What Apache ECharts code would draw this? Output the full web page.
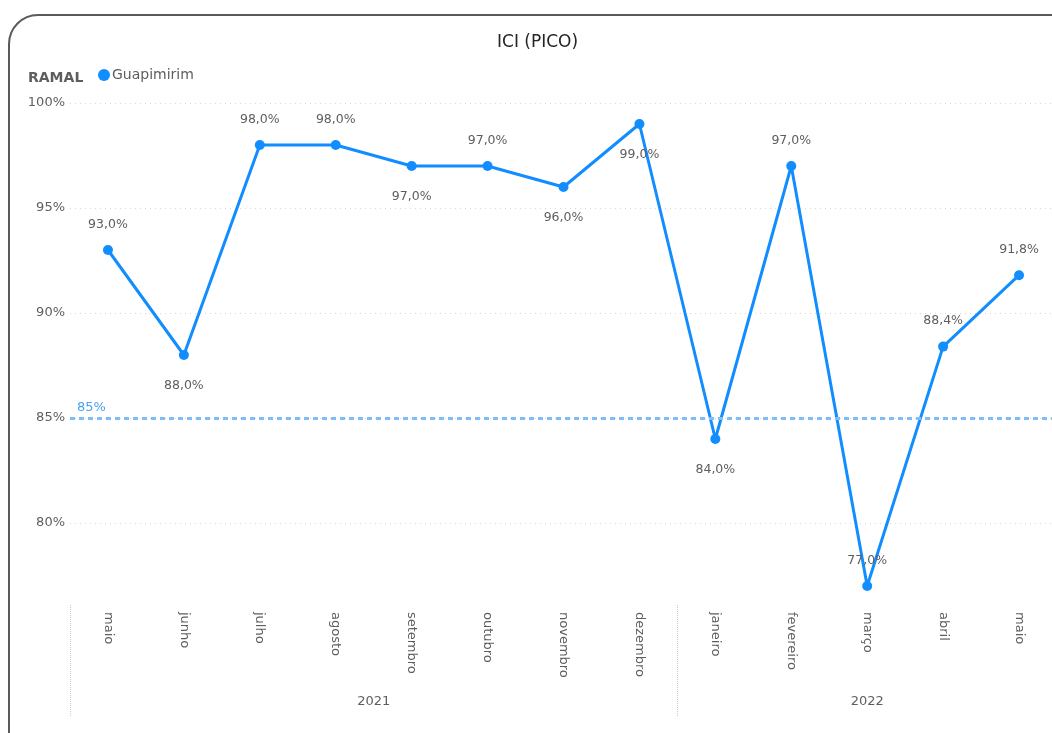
<!DOCTYPE html>
<html>
<head>
<meta charset="utf-8">
<script src="https://cdn.jsdelivr.net/npm/echarts@6/dist/echarts.min.js"></script>
<style>
html,body{margin:0;padding:0;background:#fff;width:1052px;height:733px;overflow:hidden;position:relative;}
#card{position:absolute;left:8px;top:14px;width:1080px;height:760px;border:2px solid #5a5a5a;border-radius:30px;box-sizing:border-box;}
#chart{position:absolute;left:0;top:0;width:1062px;height:733px;}
</style>
</head>
<body>
<div id="card"></div>
<div id="chart"></div>
<script>
// ---- data ----
var months = ['maio','junho','julho','agosto','setembro','outubro','novembro','dezembro','janeiro','fevereiro','março','abril','maio'];
var monthYears = ['2021','2021','2021','2021','2021','2021','2021','2021','2022','2022','2022','2022','2022'];
var values = [93.0, 88.0, 98.0, 98.0, 97.0, 97.0, 96.0, 99.0, 84.0, 97.0, 77.0, 88.4, 91.8];
var labelPlacement = ['top','bottom','top','top','bottom','top','bottom','bottom','bottom','top','top','top','top'];
var target = 85;
var seriesName = 'Guapimirim';
var yTicks = [75, 80, 85, 90, 95, 100];

// year groups derived from the month list
var groups = [];
monthYears.forEach(function(y, i){
  var g = groups[groups.length-1];
  if (!g || g.year !== y) { groups.push({year:y, start:i, end:i}); } else { g.end = i; }
});
var yearCenters = groups.map(function(g){ return (g.start + g.end)/2; });
var yearBounds = [-0.5].concat(groups.map(function(g){ return g.end + 0.5; }));

function fmtPct(v){ return v.toFixed(1).replace('.', ',') + '%'; }

var font = '"DejaVu Sans", "Noto Sans", sans-serif';
var grey = '#605E5C';
var chart = echarts.init(document.getElementById('chart'));
chart.setOption({
  animation:false,
  textStyle:{fontFamily:font},
  title:[
    {text:'ICI (PICO)', left:492, top:29, textStyle:{fontSize:17, fontWeight:'normal', color:'#252423', fontFamily:font}},
    {text:'RAMAL', left:23, top:66, textStyle:{fontSize:14, fontWeight:'bold', color:grey, fontFamily:font}}
  ],
  legend:{
    data:[seriesName], left:98, top:68, icon:'circle', itemWidth:12, itemHeight:12,
    textStyle:{fontSize:14, color:grey, fontFamily:font, padding:[0,0,0,-3]}, padding:0
  },
  grid:{left:70, top:103, width:987, height:525, containLabel:false},
  xAxis:[
    {
      type:'category', data:months, boundaryGap:true, position:'bottom', offset:-23,
      axisLine:{show:false}, axisTick:{show:false},
      axisLabel:{rotate:-90, margin:7, color:grey, fontSize:13, fontFamily:font, interval:0}
    },
    {
      type:'value', min:-0.5, max:months.length-0.5, position:'bottom', offset:-23,
      axisLine:{show:false}, splitLine:{show:false},
      axisTick:{show:true, customValues:yearBounds, length:111, lineStyle:{color:'#c8c8c8', type:'dotted', width:1}},
      axisLabel:{customValues:yearCenters, margin:90, color:grey, fontSize:13, fontFamily:font,
        formatter:function(v){ for (var i=0;i<groups.length;i++){ if (Math.abs(yearCenters[i]-v)<1e-6) return groups[i].year; } return ''; }}
    }
  ],
  yAxis:{
    type:'value', min:yTicks[0], max:yTicks[yTicks.length-1], interval:5,
    axisLine:{show:false}, axisTick:{show:false},
    axisLabel:{showMinLabel:false, margin:5, color:grey, fontSize:13, fontFamily:font, formatter:function(v){return v+'%';}},
    splitLine:{show:true, showMinLine:false, lineStyle:{color:'#d6d6d6', type:[1,4], width:1}}
  },
  series:[{
    name:seriesName, type:'line', xAxisIndex:0,
    data:values.map(function(v,i){ return {value:v, label:{position:labelPlacement[i], distance: labelPlacement[i]==='top'?14:19}}; }),
    symbol:'circle', symbolSize:10,
    itemStyle:{color:'#118DFF'},
    lineStyle:{color:'#118DFF', width:3},
    label:{show:true, color:grey, fontSize:12.5, fontFamily:font, formatter:function(p){return fmtPct(p.value);}},
    markLine:{
      silent:true, symbol:'none',
      data:[{yAxis:target}],
      lineStyle:{color:'#7fbdf7', type:[5,4], width:3},
      label:{show:true, position:'insideStartTop', formatter:target+'%', color:'#4a9ff5', fontSize:13, fontFamily:font, distance:[7,4]}
    }
  }]
});
</script>
</body>
</html>
